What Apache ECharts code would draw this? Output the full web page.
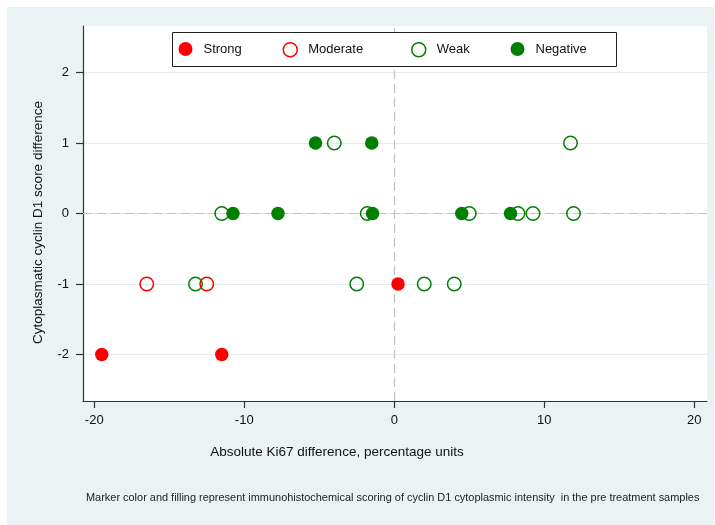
<!DOCTYPE html>
<html>
<head>
<meta charset="utf-8">
<script src="https://cdn.jsdelivr.net/npm/echarts@6/dist/echarts.min.js"></script>
<style>
  html, body { margin: 0; padding: 0; background: #ffffff; }
  #chart { position: absolute; left: 7px; top: 7px; width: 707px; height: 518px; }
</style>
</head>
<body>
<div id="chart"></div>
<script>
// ---- data ----
const strongX = [-19.5, -11.5, 0.25];
const strongY = [-2, -2, -1];
const moderateX = [-16.5, -12.5];
const moderateY = [-1, -1];
const weakX = [-13.25, -11.5, -4.0, -1.8, -2.5, 2.0, 4.0, 5.0, 8.25, 9.25, 11.75, 11.95];
const weakY = [-1, 0, 1, 0, -1, -1, -1, 0, 0, 0, 1, 0];
const negativeX = [-5.25, -1.5, -10.75, -7.75, -1.45, 4.5, 7.75];
const negativeY = [1, 1, 0, 0, 0, 0, 0];
const xTicks = [-20, -10, 0, 10, 20];
const yTicks = [-2, -1, 0, 1, 2];
const seriesNames = ['Strong', 'Moderate', 'Weak', 'Negative'];

const RED = '#ff0000';
const GREEN = '#008000';
const FONT = '"Liberation Sans", Arial, Helvetica, sans-serif';

function pairs(xs, ys) { return xs.map((x, i) => [x, ys[i]]); }

const filled = c => ({ color: c, borderWidth: 0, opacity: 1 });
const hollow = c => ({ color: 'rgba(255,255,255,0)', borderColor: c, borderWidth: 1.5, opacity: 1 });
const styles = [filled(RED), hollow(RED), hollow(GREEN), filled(GREEN)];
const datasets = [pairs(strongX, strongY), pairs(moderateX, moderateY), pairs(weakX, weakY), pairs(negativeX, negativeY)];

const legendLefts = [171.5, 275.5, 404, 503.5];
const legends = seriesNames.map((n, i) => ({
  show: true,
  left: legendLefts[i],
  top: 35,
  padding: 0,
  itemWidth: 14,
  itemHeight: 14,
  selectedMode: false,
  data: [{ name: n, icon: 'circle', itemStyle: styles[i] }],
  textStyle: { fontFamily: FONT, fontSize: 13, color: '#111', padding: [0, 0, 0, 6] }
}));

const scatterSeries = seriesNames.map((n, i) => ({
  name: n,
  type: 'scatter',
  symbol: 'circle',
  symbolSize: 13.5,
  data: datasets[i],
  itemStyle: styles[i],
  emphasis: { disabled: true },
  z: 2
}));

const chart = echarts.init(document.getElementById('chart'));
chart.setOption({
  backgroundColor: '#eaf2f3',
  animation: false,
  grid: { left: 76, right: 7, top: 19, bottom: 124, show: true, backgroundColor: '#ffffff', borderWidth: 0 },
  legend: legends,
  graphic: [
    { type: 'rect', z: 3, shape: { x: 165.5, y: 25.5, width: 444, height: 34 },
      style: { fill: '#ffffff', stroke: '#222222', lineWidth: 1 } },
    { type: 'text', z: 3, x: 79, y: 491,
      style: { text: 'Marker color and filling represent immunohistochemical scoring of cyclin D1 cytoplasmic intensity  in the pre treatment samples',
               font: '10.95px ' + FONT, fill: '#222', verticalAlign: 'middle', align: 'left' } }
  ],
  xAxis: {
    type: 'value', min: -20.75, max: 20.85,
    name: 'Absolute Ki67 difference, percentage units',
    nameLocation: 'middle', nameGap: 44,
    nameTextStyle: { fontFamily: FONT, fontSize: 13.5, color: '#111', padding: [0, 116, 0, 0] },
    axisLine: { show: true, onZero: false, lineStyle: { color: '#333', width: 1.2 } },
    axisTick: { show: true, length: 7, customValues: xTicks, lineStyle: { color: '#333', width: 1.2 } },
    axisLabel: { customValues: xTicks, margin: 13, fontFamily: FONT, fontSize: 13, color: '#111' },
    splitLine: { show: false }
  },
  yAxis: {
    type: 'value', min: -2.66, max: 2.66,
    name: 'Cytoplasmatic cyclin D1 score difference',
    nameLocation: 'middle', nameGap: 38,
    nameTextStyle: { fontFamily: FONT, fontSize: 13.5, color: '#111', padding: [0, 18, 0, 0] },
    axisLine: { show: true, onZero: false, lineStyle: { color: '#333', width: 1.2 } },
    axisTick: { show: true, length: 7, customValues: yTicks, lineStyle: { color: '#333', width: 1.2 } },
    axisLabel: { customValues: yTicks, margin: 14, fontFamily: FONT, fontSize: 13, color: '#111' },
    splitLine: { show: true, lineStyle: { color: '#e3ecee', width: 1 } }
  },
  series: [
    {
      name: 'ref', type: 'line', data: [], z: 1, silent: true,
      markLine: {
        z: 1,
        silent: true, symbol: ['none', 'none'], label: { show: false },
        lineStyle: { color: '#c2c2c2', type: [9, 5], width: 1.2 },
        emphasis: { disabled: true },
        data: [{ xAxis: 0 }, { yAxis: 0 }]
      }
    }
  ].concat(scatterSeries)
});
</script>
</body>
</html>
